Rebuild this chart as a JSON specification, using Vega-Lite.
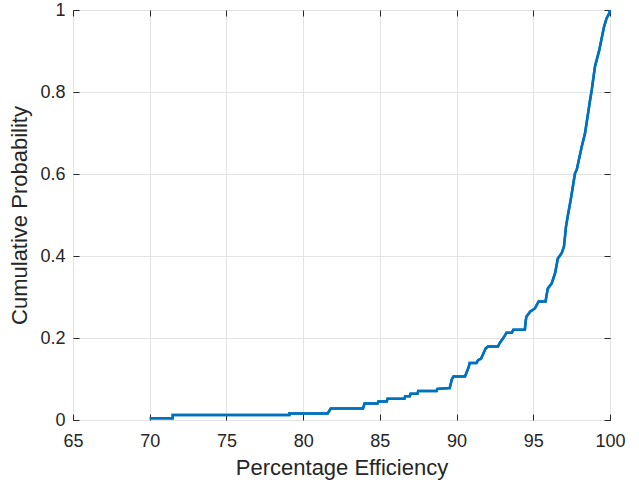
{
  "$schema": "https://vega.github.io/schema/vega-lite/v6.json",
  "autosize": {"type": "none"},
  "padding": {"left": 73, "top": 10, "right": 29, "bottom": 64},
  "width": 537,
  "height": 410,
  "background": "white",
  "config": {
    "view": {"stroke": "#262626", "strokeWidth": 1},
    "font": "Liberation Sans",
    "axis": {
      "labelFont": "Liberation Sans",
      "titleFont": "Liberation Sans",
      "labelFontSize": 18,
      "titleFontSize": 22,
      "titleFontWeight": "normal",
      "labelColor": "#262626",
      "titleColor": "#262626",
      "domainColor": "#262626",
      "tickColor": "#262626",
      "gridColor": "#e3e3e3",
      "gridOpacity": 1,
      "tickSize": -6,
      "labelFlush": false,
      "labelOverlap": false
    }
  },
  "data": {
    "values": [
      {"i": 1, "x": 70, "y": 0.004},
      {"i": 2, "x": 71.5, "y": 0.004},
      {"i": 3, "x": 71.5, "y": 0.012},
      {"i": 4, "x": 79.1, "y": 0.012},
      {"i": 5, "x": 79.1, "y": 0.016},
      {"i": 6, "x": 81.6, "y": 0.016},
      {"i": 7, "x": 81.8, "y": 0.028},
      {"i": 8, "x": 83.9, "y": 0.028},
      {"i": 9, "x": 84.0, "y": 0.04},
      {"i": 10, "x": 84.85, "y": 0.04},
      {"i": 11, "x": 84.9, "y": 0.045},
      {"i": 12, "x": 85.45, "y": 0.045},
      {"i": 13, "x": 85.5, "y": 0.052},
      {"i": 14, "x": 86.6, "y": 0.052},
      {"i": 15, "x": 86.65, "y": 0.058},
      {"i": 16, "x": 86.95, "y": 0.058},
      {"i": 17, "x": 87.0, "y": 0.064},
      {"i": 18, "x": 87.45, "y": 0.064},
      {"i": 19, "x": 87.5, "y": 0.071},
      {"i": 20, "x": 88.7, "y": 0.071},
      {"i": 21, "x": 88.75, "y": 0.076},
      {"i": 22, "x": 89.55, "y": 0.078},
      {"i": 23, "x": 89.7, "y": 0.1},
      {"i": 24, "x": 89.8, "y": 0.106},
      {"i": 25, "x": 90.55, "y": 0.106},
      {"i": 26, "x": 90.8, "y": 0.13},
      {"i": 27, "x": 90.85, "y": 0.139},
      {"i": 28, "x": 91.3, "y": 0.139},
      {"i": 29, "x": 91.4, "y": 0.146},
      {"i": 30, "x": 91.6, "y": 0.15},
      {"i": 31, "x": 91.9, "y": 0.175},
      {"i": 32, "x": 92.05, "y": 0.179},
      {"i": 33, "x": 92.7, "y": 0.179},
      {"i": 34, "x": 92.8, "y": 0.187},
      {"i": 35, "x": 93.1, "y": 0.203},
      {"i": 36, "x": 93.25, "y": 0.213},
      {"i": 37, "x": 93.6, "y": 0.213},
      {"i": 38, "x": 93.7, "y": 0.22},
      {"i": 39, "x": 94.45, "y": 0.22},
      {"i": 40, "x": 94.5, "y": 0.24},
      {"i": 41, "x": 94.55, "y": 0.252},
      {"i": 42, "x": 94.79, "y": 0.264},
      {"i": 43, "x": 95.1, "y": 0.272},
      {"i": 44, "x": 95.35, "y": 0.289},
      {"i": 45, "x": 95.8, "y": 0.289},
      {"i": 46, "x": 95.85, "y": 0.301},
      {"i": 47, "x": 95.95, "y": 0.321},
      {"i": 48, "x": 96.2, "y": 0.333},
      {"i": 49, "x": 96.42, "y": 0.358},
      {"i": 50, "x": 96.6, "y": 0.394},
      {"i": 51, "x": 96.85, "y": 0.407},
      {"i": 52, "x": 97.0, "y": 0.423},
      {"i": 53, "x": 97.13, "y": 0.471},
      {"i": 54, "x": 97.24, "y": 0.496},
      {"i": 55, "x": 97.44, "y": 0.537},
      {"i": 56, "x": 97.72, "y": 0.602},
      {"i": 57, "x": 97.83, "y": 0.61},
      {"i": 58, "x": 98.16, "y": 0.667},
      {"i": 59, "x": 98.37, "y": 0.699},
      {"i": 60, "x": 98.7, "y": 0.78},
      {"i": 61, "x": 98.81, "y": 0.805},
      {"i": 62, "x": 99.02, "y": 0.862},
      {"i": 63, "x": 99.3, "y": 0.902},
      {"i": 64, "x": 99.61, "y": 0.959},
      {"i": 65, "x": 99.78, "y": 0.98},
      {"i": 66, "x": 99.95, "y": 0.992},
      {"i": 67, "x": 100, "y": 1}
    ]
  },
  "layer": [
    {
      "mark": {"type": "line", "color": "#0072BD", "strokeWidth": 2.5, "clip": false},
      "encoding": {
        "x": {
          "field": "x", "type": "quantitative",
          "scale": {"domain": [65, 100], "nice": false, "zero": false},
          "axis": {"title": "Percentage Efficiency", "values": [65, 70, 75, 80, 85, 90, 95, 100], "labelPadding": 18, "titlePadding": 7, "domain": false}
        },
        "y": {
          "field": "y", "type": "quantitative",
          "scale": {"domain": [0, 1], "nice": false},
          "axis": {"title": "Cumulative Probability", "values": [0, 0.2, 0.4, 0.6, 0.8, 1], "format": "~g", "labelPadding": 14, "titlePadding": 8, "domain": false}
        },
        "order": {"field": "i", "type": "quantitative"}
      }
    },
    {
      "mark": {"type": "line", "color": "#0072BD", "strokeWidth": 2.5, "clip": false},
      "encoding": {
        "x": {
          "field": "x", "type": "quantitative",
          "scale": {"domain": [65, 100], "nice": false, "zero": false},
          "axis": {"orient": "top", "title": null, "labels": false, "grid": false, "domain": false, "values": [65, 70, 75, 80, 85, 90, 95, 100]}
        },
        "y": {
          "field": "y", "type": "quantitative",
          "scale": {"domain": [0, 1], "nice": false},
          "axis": {"orient": "right", "title": null, "labels": false, "grid": false, "domain": false, "values": [0, 0.2, 0.4, 0.6, 0.8, 1]}
        },
        "order": {"field": "i", "type": "quantitative"}
      }
    }
  ],
  "resolve": {"axis": {"x": "independent", "y": "independent"}}
}
